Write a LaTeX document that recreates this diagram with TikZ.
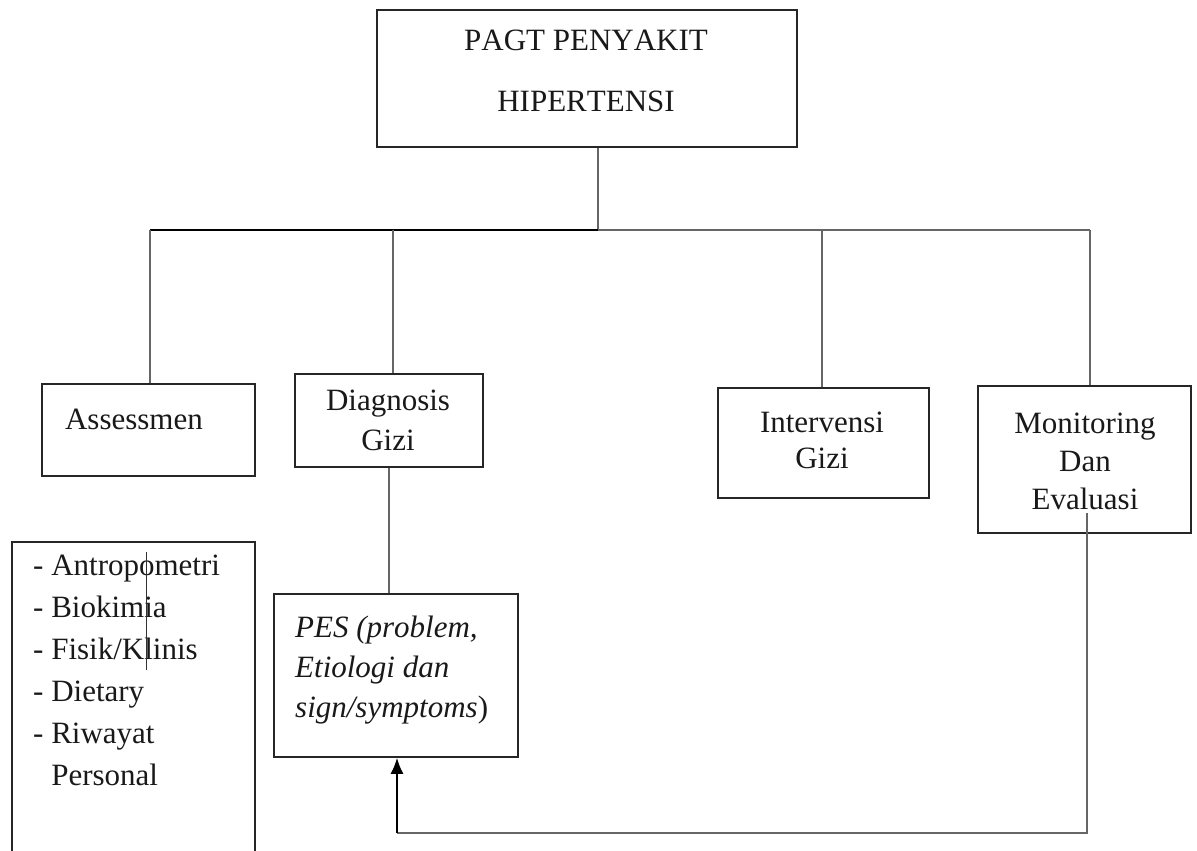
\documentclass[tikz,border=0pt]{standalone}
\usepackage{fontspec}
\setmainfont[Kerning=Off]{Liberation Serif}
\usetikzlibrary{arrows.meta}
\begin{document}
\begin{tikzpicture}[x=1pt,y=-1pt,
  box/.style={draw=black!85,line width=1.6pt,inner sep=0pt},
  lbl/.style={inner sep=0pt,text=black!90,font=\fontsize{31}{40}\selectfont},
  conn/.style={draw=black!60,line width=1.8pt},
  arr/.style={draw=black,line width=1.8pt,-{Latex[length=16pt,width=13pt]}}]
\useasboundingbox (0,0) rectangle (1197,851);
% boxes
\node[box,minimum width=420pt,minimum height=137pt] (top) at (587,78.5) {};
\node[box,minimum width=213pt,minimum height=92pt] (ass) at (148.5,430) {};
\node[box,minimum width=188pt,minimum height=93pt] (diag) at (389,420.5) {};
\node[box,minimum width=211pt,minimum height=110pt] (interv) at (823.5,443) {};
\node[box,minimum width=213pt,minimum height=147pt] (mon) at (1084.5,459.5) {};
\node[box,minimum width=243pt,minimum height=338pt] (list) at (133.5,711) {};
\node[box,minimum width=244pt,minimum height=163pt] (pes) at (396,675.5) {};
% texts
\node[lbl,align=center,font=\fontsize{31}{61}\selectfont] (tTop) at (586,71) {PAGT PENYAKIT\\HIPERTENSI};
\node[lbl,anchor=base] (tAss) at (134,429) {Assessmen};
\node[lbl,align=center] (tDiag) at (388,420.5) {Diagnosis\\Gizi};
\node[lbl,align=center,font=\fontsize{31}{36}\selectfont] (tInt) at (822,440.5) {Intervensi\\Gizi};
\node[lbl,align=center,font=\fontsize{31}{38}\selectfont] (tMon) at (1085,461) {Monitoring\\Dan\\Evaluasi};
\node[lbl,align=left,anchor=west] (tPes) at (295,670) {\textit{PES (problem,}\\\textit{Etiologi dan}\\\textit{sign/symptoms})};
\node[lbl,align=left,anchor=north west,font=\fontsize{31}{42}\selectfont] (tList) at (33,555)
  {- Antropometri\\- Biokimia\\- Fisik/Klinis\\- Dietary\\- Riwayat\\\phantom{- }Personal};
% junction coordinates
\coordinate (j0) at (598,230);
\coordinate (jA) at (150,230);
\coordinate (jD) at (393,230);
\coordinate (jI) at (822,230);
\coordinate (jM) at (1090,230);
\coordinate (fb) at (1087,513);
\coordinate (fa) at (397,833);
\coordinate (s1) at (146,552);
\coordinate (s2) at (146,670);
% connectors
\draw[conn] (top.south -| j0) -- (j0);
\draw[draw=black,line width=2pt] (jA) -- (j0);
\draw[conn] (j0) -- (jM);
\draw[conn] (jA) -- (jA |- ass.north);
\draw[conn] (jD) -- (jD |- diag.north);
\draw[conn] (jI) -- (jI |- interv.north);
\draw[conn] (jM) -- (jM |- mon.north);
\draw[conn] (diag.south) -- (diag.south |- pes.north);
\draw[conn] (fb) -- (fb |- fa) -- (fa);
\draw[arr] (fa) -- (fa |- pes.south);
\draw[draw=black!80,line width=1pt] (s1) -- (s2);
\end{tikzpicture}
\end{document}
